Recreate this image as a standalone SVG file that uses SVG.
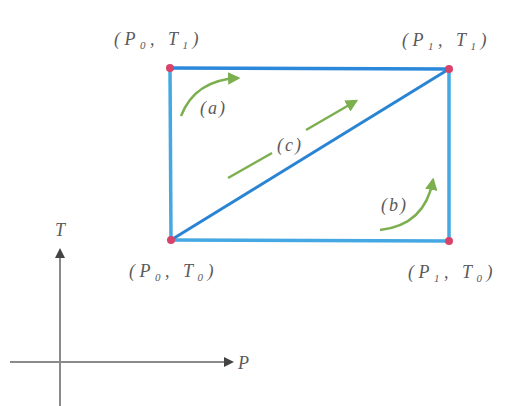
<svg xmlns="http://www.w3.org/2000/svg" width="511" height="406" viewBox="0 0 511 406">
<defs>
<style>
.lbl{font-family:"Liberation Serif",serif;font-style:italic;font-size:18px;fill:#5a5a5a}
.pl{letter-spacing:4.5px}
.sl{letter-spacing:2px}
.side{stroke:#45a8e2;stroke-width:3.5;fill:none}
.grn{stroke:#7caf4e;stroke-width:2.5;fill:none}
.ax{stroke:#8a8a8a;stroke-width:2;fill:none}
.pt{fill:#d8436a}
</style>
<marker id="ga" viewBox="0 0 10 10" refX="8" refY="5" markerWidth="5" markerHeight="5" orient="auto"><path d="M0,0 L10,5 L0,10 z" fill="#7caf4e"/></marker>
<marker id="ka" viewBox="0 0 10 10" refX="8" refY="5" markerWidth="6" markerHeight="5" orient="auto"><path d="M0,0 L10,5 L0,10 z" fill="#444"/></marker>
</defs>
<g id="connectors">
<line class="side" x1="170" y1="68" x2="449" y2="69" style="stroke:#2c88da"/>
<line class="side" x1="449" y1="69" x2="449" y2="241"/>
<line class="side" x1="171" y1="240" x2="449" y2="241"/>
<line class="side" x1="170" y1="68" x2="171" y2="240"/>
<line class="side" x1="171" y1="240" x2="449" y2="69" style="stroke:#2a84d4;stroke-width:3"/>
<path class="grn" d="M181,116 Q195,80 238,78" marker-end="url(#ga)"/>
<path class="grn" d="M380,230 Q425,225 433,180" marker-end="url(#ga)"/>
<line class="grn" x1="228" y1="178" x2="272" y2="153"/>
<line class="grn" x1="306" y1="130" x2="356" y2="101" marker-end="url(#ga)"/>
</g>
<g id="axes">
<line class="ax" x1="60" y1="406" x2="60" y2="250" marker-end="url(#ka)"/>
<line class="ax" x1="10" y1="362" x2="232" y2="362" marker-end="url(#ka)"/>
<text class="lbl" x="55" y="236">T</text>
<text class="lbl" x="238" y="369">P</text>
</g>
<g id="n00"><circle class="pt" cx="171" cy="240" r="4"/><text class="lbl pl" x="129" y="277">(P<tspan font-size="11" dy="4">0</tspan><tspan dy="-4">, T</tspan><tspan font-size="11" dy="4">0</tspan><tspan dy="-4">)</tspan></text></g>
<g id="n01"><circle class="pt" cx="170" cy="68" r="4"/><text class="lbl pl" x="114" y="45">(P<tspan font-size="11" dy="4">0</tspan><tspan dy="-4">, T</tspan><tspan font-size="11" dy="4">1</tspan><tspan dy="-4">)</tspan></text></g>
<g id="n11"><circle class="pt" cx="449" cy="69" r="4"/><text class="lbl pl" x="402" y="46">(P<tspan font-size="11" dy="4">1</tspan><tspan dy="-4">, T</tspan><tspan font-size="11" dy="4">1</tspan><tspan dy="-4">)</tspan></text></g>
<g id="n10"><circle class="pt" cx="449" cy="241" r="4"/><text class="lbl pl" x="408" y="278">(P<tspan font-size="11" dy="4">1</tspan><tspan dy="-4">, T</tspan><tspan font-size="11" dy="4">0</tspan><tspan dy="-4">)</tspan></text></g>
<g id="la"><text class="lbl sl" x="200" y="114">(a)</text></g>
<g id="lb"><text class="lbl sl" x="381" y="211">(b)</text></g>
<g id="lc"><text class="lbl sl" x="277" y="151">(c)</text></g>
</svg>
